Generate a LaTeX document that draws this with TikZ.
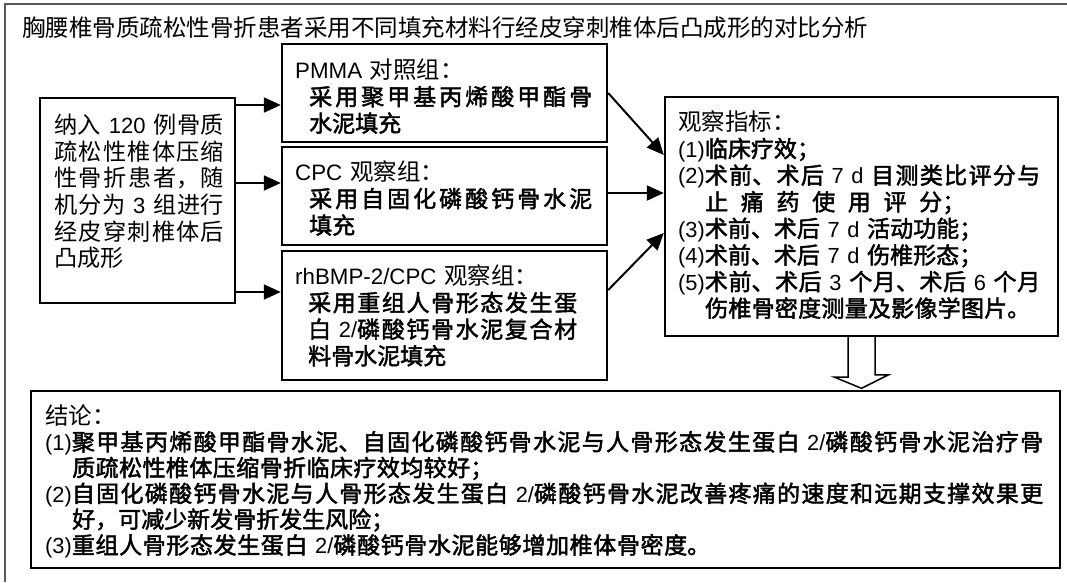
\documentclass[tikz,border=0pt]{standalone}
\usepackage{fontspec}
\setmainfont{Noto Sans CJK SC}
\newfontfamily\kai{Noto Sans CJK SC}[FakeBold=2]
\newfontfamily\lat{Liberation Sans}[Scale=0.95]
\usetikzlibrary{arrows.meta,calc}
\XeTeXlinebreaklocale "zh"
\XeTeXlinebreakskip=0pt plus 1fil
\newcommand\la[1]{{\lat{}#1}}
% justified line: leftskip, rightskip, text
\newcommand\JL[3]{{\leftskip=#1pt\rightskip=#2pt\parfillskip=0pt\relax\noindent#3\par}}
% natural line: leftskip, text
\newcommand\NL[2]{{\leftskip=#1pt\rightskip=0pt\parfillskip=0pt plus 1fill\relax\noindent#2\par}}
\tikzset{
  box/.style={draw, line width=2.4pt, rectangle, inner sep=0pt},
  arr/.style={line width=2pt, -{Triangle[length=17pt,width=15pt]}},
  txt/.style={inner sep=0pt, anchor=base west, font=\fontsize{23}{26.6}\selectfont},
  hei/.style={font=\fontsize{23.5}{26.6}\selectfont},
  barrow/.style={line width=1.5pt, line join=miter},
  frame/.style={draw=black!65, line width=1.2pt}
}
\begin{document}
\begin{tikzpicture}[x=1pt,y=-1pt]
\useasboundingbox (0,0) rectangle (1067,582);
\draw[frame] (5,582) -- (5,4) -- (1067,4);

% boxes
\node[box, minimum width=195pt, minimum height=205pt] (inc) at (137.5,200.5) {};
\node[box, minimum width=325pt, minimum height=98pt] (pm) at (444.5,93) {};
\node[box, minimum width=325pt, minimum height=98pt] (cpc) at (444.5,196) {};
\node[box, minimum width=325pt, minimum height=129pt] (rh) at (444.5,315.5) {};
\node[box, minimum width=393pt, minimum height=239pt] (obs) at (861.5,216.5) {};
\node[box, minimum width=1029pt, minimum height=177pt] (concl) at (545.5,479.5) {};

% texts
\node[txt, hei] (title) at (22,36.8)
  {胸腰椎骨质疏松性骨折患者采用不同填充材料行经皮穿刺椎体后凸成形的对比分析};

\node[txt, font=\fontsize{23.2}{26.6}\selectfont, text width=172pt] (inct) at (54,133.7) {%
\JL{0}{2}{纳入\la{ 120 }例骨质}%
\JL{0}{2}{疏松性椎体压缩}%
\JL{0}{2}{性骨折患者，随}%
\JL{0}{2}{机分为\la{ 3 }组进行}%
\JL{0}{2}{经皮穿刺椎体后}%
\NL{0}{凸成形}};

\node[txt, text width=297pt] (pmt) at (295,78.7) {%
\NL{0}{{\fontsize{23.5}{26.6}\selectfont\la{PMMA }对照组：}}%
\JL{14}{0}{\kai 采用聚甲基丙烯酸甲酯骨}%
\NL{14}{\kai 水泥填充}};

\node[txt, text width=297pt] (cpct) at (295,180.7) {%
\NL{0}{{\fontsize{23.5}{26.6}\selectfont\la{CPC }观察组：}}%
\JL{14}{0}{\kai 采用自固化磷酸钙骨水泥}%
\NL{14}{\kai 填充}};

\node[txt, text width=297pt] (rht) at (295,284.7) {%
\NL{0}{{\fontsize{23.5}{26.6}\selectfont\la{rhBMP-2/CPC }观察组：}}%
\JL{13}{15}{\kai 采用重组人骨形态发生蛋}%
\JL{13}{15}{\kai 白\la{ 2/}磷酸钙骨水泥复合材}%
\NL{13}{\kai 料骨水泥填充}};

\node[txt, text width=362pt] (obst) at (678,130.7) {%
\NL{0}{{\fontsize{23.5}{26.6}\selectfont 观察指标：}}%
\NL{0}{\la{(1)}\kai 临床疗效；}%
\JL{0}{0}{\la{(2)}\kai 术前、术后\la{ 7 d }目测类比评分与}%
\JL{27}{75}{\kai 止痛药使用评分；}%
\NL{0}{\la{(3)}\kai 术前、术后\la{ 7 d }活动功能；}%
\NL{0}{\la{(4)}\kai 术前、术后\la{ 7 d }伤椎形态；}%
\JL{0}{0}{\la{(5)}\kai 术前、术后\la{ 3 }个月、术后\la{ 6 }个月}%
\JL{27}{10}{\kai 伤椎骨密度测量及影像学图片。}};

\node[txt, text width=998pt, font=\fontsize{23}{25.8}\selectfont] (conct) at (45,424.7) {%
\NL{0}{{\fontsize{23.5}{25.8}\selectfont 结论：}}%
\JL{0}{0}{\la{(1)}\kai 聚甲基丙烯酸甲酯骨水泥、自固化磷酸钙骨水泥与人骨形态发生蛋白\la{ 2/}磷酸钙骨水泥治疗骨}%
\JL{27}{550}{\kai 质疏松性椎体压缩骨折临床疗效均较好；}%
\JL{0}{0}{\la{(2)}\kai 自固化磷酸钙骨水泥与人骨形态发生蛋白\la{ 2/}磷酸钙骨水泥改善疼痛的速度和远期支撑效果更}%
\NL{27}{\kai 好，可减少新发骨折发生风险；}%
\JL{0}{333}{\la{(3)}\kai 重组人骨形态发生蛋白\la{ 2/}磷酸钙骨水泥能够增加椎体骨密度。}};

% connectors
\coordinate (y1) at (0,105);
\coordinate (y2) at (0,183);
\coordinate (y3) at (0,292);
\coordinate (e1) at (0,155);
\coordinate (e2) at (0,193);
\coordinate (e3) at (0,233);
\coordinate (s3) at (0,290);
\draw[arr] (inc.east |- y1) -- (pm.west |- y1);
\draw[arr] (inc.east |- y2) -- (cpc.west |- y2);
\draw[arr] (inc.east |- y3) -- (rh.west |- y3);
\draw[arr] (pm.east) -- (obs.west |- e1);
\draw[arr] (cpc.east |- e2) -- (obs.west |- e2);
\draw[arr] (rh.east |- s3) -- (obs.west |- e3);

% block arrow
\fill[white] ($(obs.south)+(-13.5,1.4)$) -- ++(0,38.6) -- ++(-13.5,0)
  -- ($(obs.south |- concl.north)+(0,-1.5)$) -- ++(27,-13.5) -- ++(-13.5,0)
  -- ($(obs.south)+(13.5,1.4)$) -- cycle;
\draw[barrow] ($(obs.south)+(-13.5,0)$) -- ++(0,40) -- ++(-13.5,0)
  -- ($(obs.south |- concl.north)+(0,-1.5)$) -- ++(27,-13.5) -- ++(-13.5,0)
  -- ($(obs.south)+(13.5,0)$);
\end{tikzpicture}
\end{document}
